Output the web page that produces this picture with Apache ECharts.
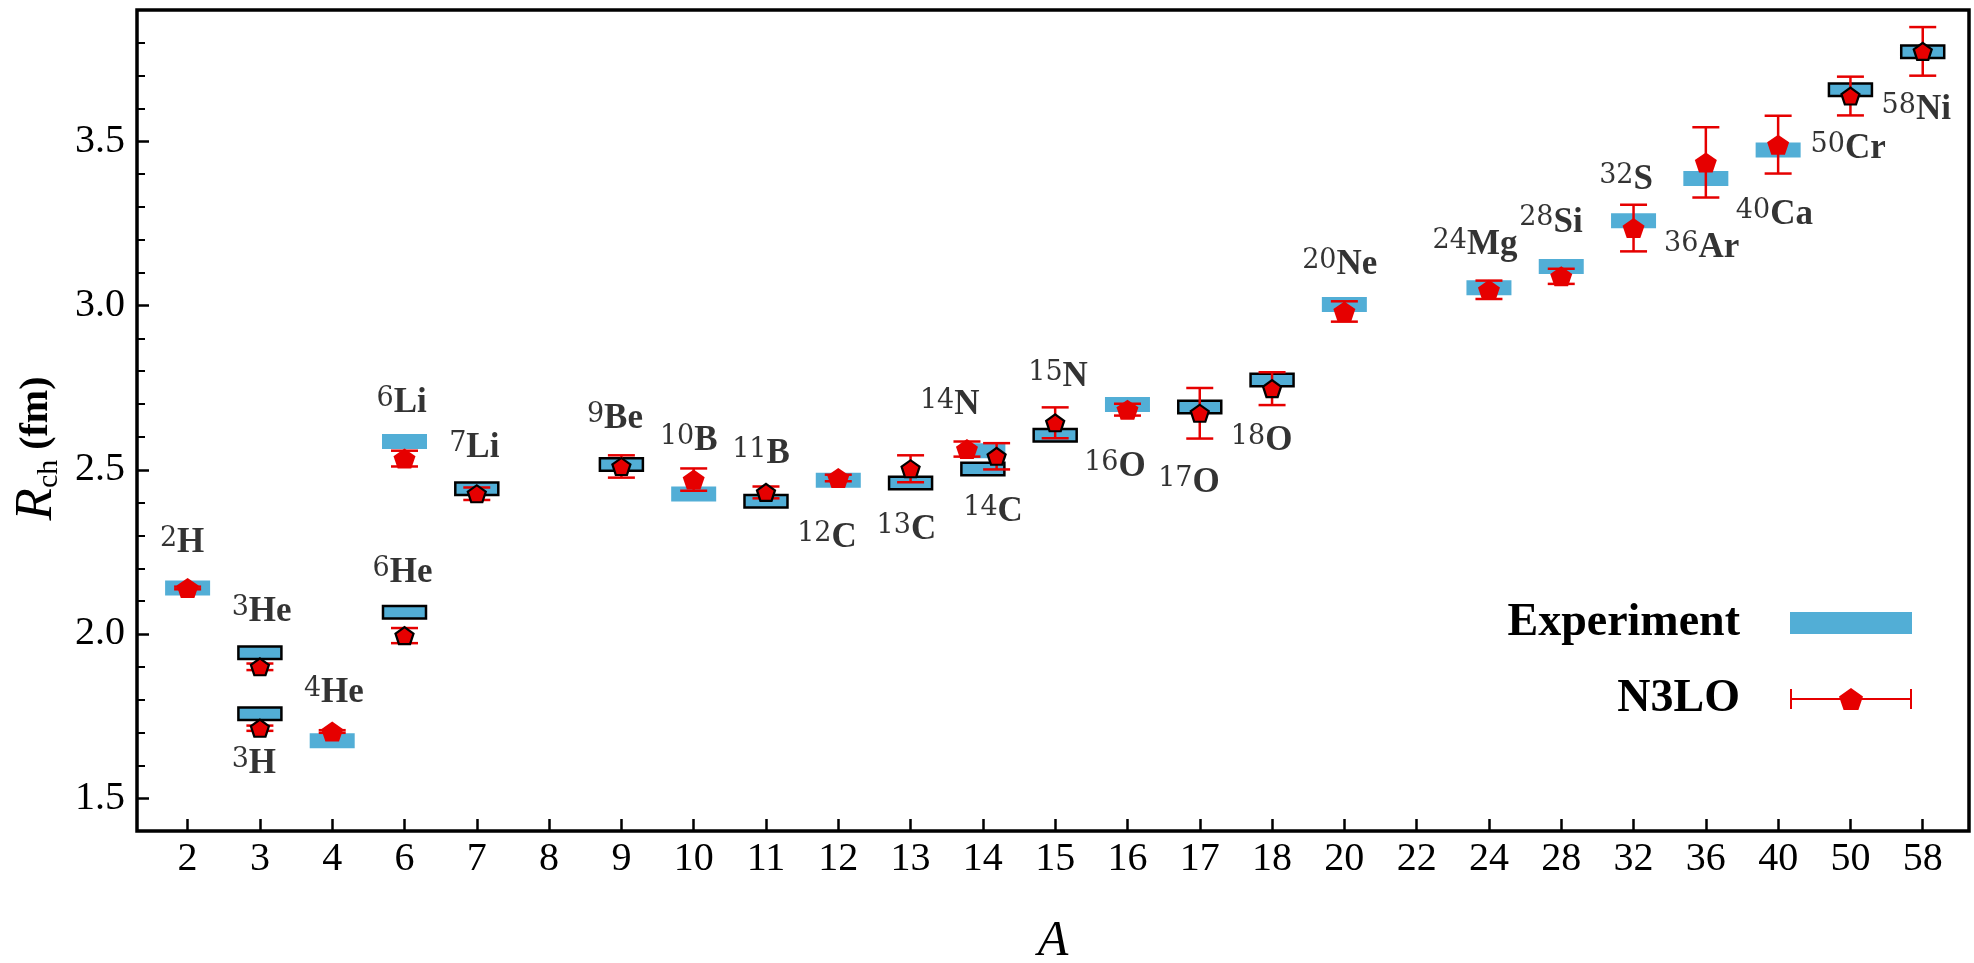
<!DOCTYPE html>
<html>
<head>
<meta charset="utf-8">
<script src="https://cdn.jsdelivr.net/npm/echarts@6/dist/echarts.min.js"></script>
<style>
html,body{margin:0;padding:0;background:#fff;}
#chart{width:1974px;height:963px;}
</style>
</head>
<body>
<div id="chart"></div>
<script>
// ---- data ----
const categories = ['2','3','4','6','7','8','9','10','11','12','13','14','15','16','17','18','20','22','24','28','32','36','40','50','58'];
const nuclei = ['2H','3H','3He','4He','6He','6Li','7Li','9Be','10B','11B','12C','13C','14C','14N','15N','16O','17O','18O','20Ne','24Mg','28Si','32S','36Ar','40Ca','50Cr','58Ni'];
const massNumber = [2,3,3,4,6,6,7,9,10,11,12,13,14,14,15,16,17,18,20,24,28,32,36,40,50,58];
const elementSymbol = ['H','H','He','He','He','Li','Li','Be','B','B','C','C','C','N','N','O','O','O','Ne','Mg','Si','S','Ar','Ca','Cr','Ni'];
const experiment = [2.140,1.757,1.943,1.675,2.066,2.586,2.442,2.516,2.426,2.404,2.468,2.460,2.502,2.558,2.605,2.699,2.691,2.773,3.003,3.054,3.119,3.258,3.387,3.474,3.657,3.773];
const n3lo = [2.140,1.713,1.900,1.703,1.995,2.534,2.427,2.510,2.470,2.431,2.475,2.503,2.541,2.563,2.643,2.683,2.672,2.747,2.982,3.048,3.089,3.236,3.436,3.490,3.638,3.774];
const n3loError = [0.004,0.008,0.010,0.004,0.023,0.024,0.019,0.034,0.034,0.018,0.010,0.041,0.040,0.023,0.047,0.018,0.077,0.050,0.031,0.028,0.023,0.071,0.107,0.088,0.059,0.074];
// horizontal shift (in category units) of the N3LO point where two nuclei share one A
const n3loShift = [0,0,0,0,0,0,0,0,0,0,0,0,0.19,-0.22,0,0,0,0,0,0,0,0,0,0,0,0];
// nuclei drawn with a black outline
const outlined = ['3H','3He','6He','7Li','9Be','11B','13C','14C','15N','17O','18O','50Cr','58Ni'];
// annotation anchors (left end, baseline) in data units
const labelX = [-0.383,0.609,0.609,1.609,2.559,2.614,3.618,5.523,6.533,7.532,8.431,9.530,10.728,10.129,11.627,12.401,13.425,14.430,15.416,17.220,18.418,19.524,20.423,21.415,22.448,23.430];
const labelY = [2.243,1.569,2.033,1.786,2.150,2.668,2.532,2.621,2.552,2.512,2.256,2.282,2.336,2.662,2.749,2.473,2.424,2.554,3.089,3.150,3.218,3.348,3.140,3.241,3.441,3.561];
const yMajorTicks = [1.5,2.0,2.5,3.0,3.5];
const yMinorTicks = [1.6,1.7,1.8,1.9,2.1,2.2,2.3,2.4,2.6,2.7,2.8,2.9,3.1,3.2,3.3,3.4,3.6,3.7,3.8];

// ---- build ----
const xTicks = categories.map((c, i) => i);
const xOf = i => categories.indexOf(String(massNumber[i]));
const isOut = i => outlined.indexOf(nuclei[i]) >= 0 ? 1 : 0;

const BLUE = '#52AED6';
const RED = '#E60000';
const SERIF = 'Liberation Serif';
const PENT = 'path://M0,-1L0.951,-0.309L0.588,0.809L-0.588,0.809L-0.951,-0.309Z';

const barData = nuclei.map((n, i) => [xOf(i), experiment[i], isOut(i)]);
const errData = nuclei.map((n, i) => [xOf(i) + n3loShift[i], n3lo[i], n3loError[i]]);
const ptData = nuclei.map((n, i) => {
  const o = isOut(i);
  return {
    value: [xOf(i) + n3loShift[i], n3lo[i]],
    symbolSize: o ? [18, 17] : [22, 20],
    itemStyle: o ? {borderColor: '#000', borderWidth: 2.2} : {borderWidth: 0}
  };
});
const labelData = nuclei.map((n, i) => [labelX[i], labelY[i]]);

const chart = echarts.init(document.getElementById('chart'), null, {renderer: 'canvas'});
const option = {
  animation: false,
  backgroundColor: '#fff',
  grid: {left: 137, right: 5, top: 10, bottom: 132, show: true, borderColor: '#000', borderWidth: 3.5,
    backgroundColor: 'transparent', containLabel: false, outerBoundsMode: 'none'},
  legend: [
    {
      data: [{name: 'Experiment', icon: 'rect'}],
      orient: 'vertical', align: 'right', right: 62, top: 600, padding: 0,
      itemWidth: 122, itemHeight: 22, selectedMode: false,
      textStyle: {fontFamily: SERIF, fontWeight: 'bold', fontSize: 46, color: '#000', lineHeight: 46, padding: [0, 45, 0, 0]}
    },
    {
      data: [{name: 'N3LO', icon: 'path://M0,1H2V10H120V1H122V21H120V12H2V21H0Z M61,0L73,8.4L68.4,22L53.6,22L49,8.4Z'}],
      orient: 'vertical', align: 'right', right: 62, top: 676, padding: 0,
      itemWidth: 122, itemHeight: 22, selectedMode: false,
      textStyle: {fontFamily: SERIF, fontWeight: 'bold', fontSize: 46, color: '#000', lineHeight: 46, padding: [0, 45, 0, 0]}
    }
  ],
  xAxis: {
    type: 'value', min: -0.7, max: 24.64,
    name: 'A', nameLocation: 'middle', nameGap: 86,
    nameTextStyle: {fontFamily: SERIF, fontStyle: 'italic', fontSize: 50, color: '#000'},
    axisLine: {show: false, onZero: false},
    splitLine: {show: false},
    axisTick: {show: true, inside: true, length: 12, customValues: xTicks, lineStyle: {color: '#000', width: 2.5}},
    axisLabel: {show: true, customValues: xTicks, margin: 8, formatter: v => categories[Math.round(v)],
      fontFamily: SERIF, fontSize: 40, color: '#000'}
  },
  yAxis: [
    {
      type: 'value', min: 1.4, max: 3.9, position: 'left',
      name: '{r|R}{c|ch}{f| (fm)}', nameLocation: 'middle', nameRotate: 90, nameGap: 70,
      nameTextStyle: {
        color: '#000',
        padding: [0, 56, 0, 0],
        rich: {
          r: {fontFamily: SERIF, fontStyle: 'italic', fontSize: 53, lineHeight: 54, color: '#000'},
          c: {fontFamily: SERIF, fontSize: 30, lineHeight: 22, verticalAlign: 'bottom', color: '#000'},
          f: {fontFamily: SERIF, fontWeight: 'bold', fontSize: 40, lineHeight: 54, color: '#000'}
        }
      },
      axisLine: {show: false, onZero: false},
      splitLine: {show: false},
      axisTick: {show: true, inside: true, length: 12, customValues: yMajorTicks, lineStyle: {color: '#000', width: 2.5}},
      axisLabel: {show: true, customValues: yMajorTicks, margin: 12, formatter: v => v.toFixed(1),
        fontFamily: SERIF, fontSize: 40, color: '#000'}
    },
    {
      type: 'value', min: 1.4, max: 3.9, position: 'left',
      axisLine: {show: false, onZero: false},
      splitLine: {show: false},
      axisTick: {show: true, inside: true, length: 8, customValues: yMinorTicks, lineStyle: {color: '#000', width: 2}},
      axisLabel: {show: false}
    }
  ],
  series: [
    {
      name: 'Experiment', type: 'custom', z: 2, silent: true,
      itemStyle: {color: BLUE},
      encode: {x: 0, y: 1},
      data: barData,
      renderItem: function (params, api) {
        const p = api.coord([api.value(0), api.value(1)]);
        const o = api.value(2);
        const w = o ? 43 : 45, h = o ? 12.5 : 15;
        return {
          type: 'rect',
          shape: {x: p[0] - w / 2, y: p[1] - h / 2, width: w, height: h},
          style: o ? {fill: BLUE, stroke: '#000', lineWidth: 2.5} : {fill: BLUE, stroke: null}
        };
      }
    },
    {
      name: 'N3LO', type: 'custom', z: 3, silent: true,
      itemStyle: {color: RED},
      encode: {x: 0, y: 1},
      data: errData,
      renderItem: function (params, api) {
        const x = api.value(0), y = api.value(1), e = api.value(2);
        const t = api.coord([x, y + e]);
        const b = api.coord([x, y - e]);
        const cw = 13.5;
        const st = {stroke: RED, lineWidth: 2.5, fill: null};
        return {
          type: 'group',
          children: [
            {type: 'line', shape: {x1: t[0], y1: t[1], x2: b[0], y2: b[1]}, style: st},
            {type: 'line', shape: {x1: t[0] - cw, y1: t[1], x2: t[0] + cw, y2: t[1]}, style: st},
            {type: 'line', shape: {x1: b[0] - cw, y1: b[1], x2: b[0] + cw, y2: b[1]}, style: st}
          ]
        };
      }
    },
    {
      name: 'N3LO', type: 'scatter', z: 4, silent: true,
      symbol: PENT,
      itemStyle: {color: RED, opacity: 1},
      emphasis: {disabled: true},
      data: ptData
    },
    {
      name: 'labels', type: 'scatter', z: 5, silent: true,
      symbolSize: 0,
      itemStyle: {color: 'transparent'},
      emphasis: {disabled: true},
      data: labelData,
      label: {
        show: true, position: [0, 0], align: 'left', verticalAlign: 'bottom', offset: [0, 6],
        formatter: p => '{s|' + massNumber[p.dataIndex] + '}{e|' + elementSymbol[p.dataIndex] + '}',
        rich: {
          s: {fontFamily: 'DejaVu Serif', fontSize: 27, lineHeight: 12, verticalAlign: 'top', color: '#000'},
          e: {fontFamily: SERIF, fontWeight: 'bold', fontSize: 35, lineHeight: 35, verticalAlign: 'bottom', color: '#000'}
        }
      }
    }
  ]
};
chart.setOption(option);
</script>
</body>
</html>
